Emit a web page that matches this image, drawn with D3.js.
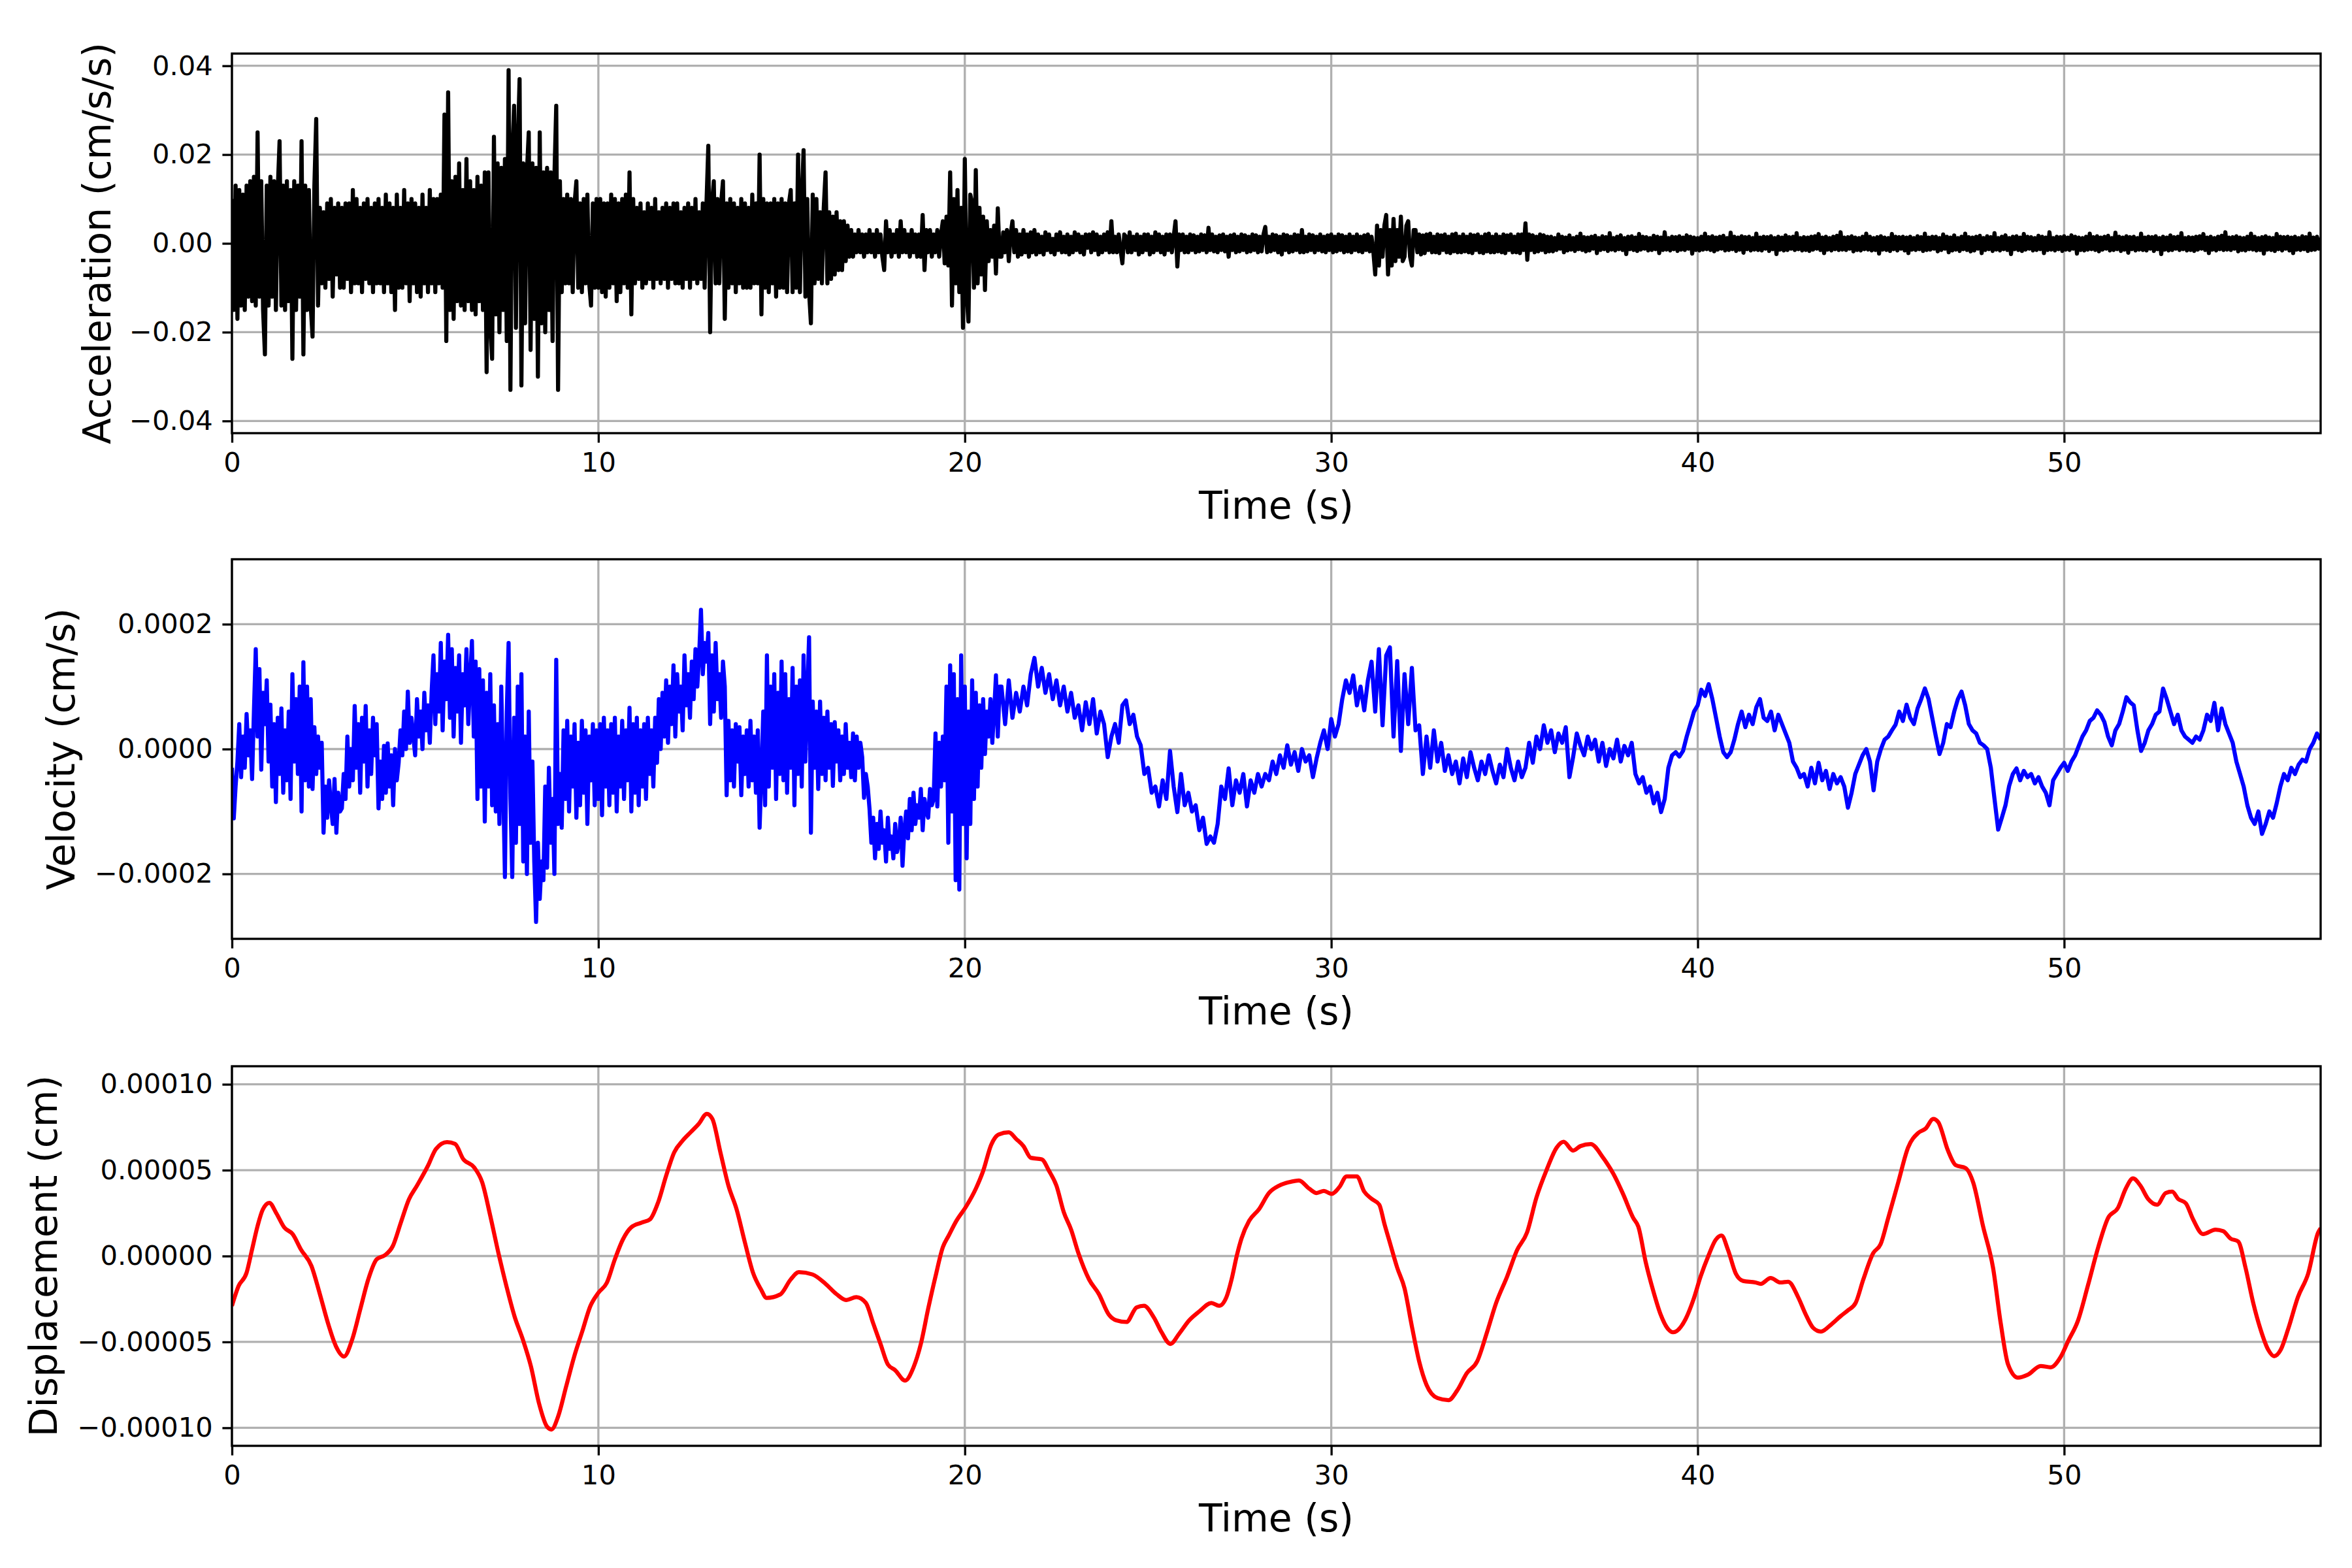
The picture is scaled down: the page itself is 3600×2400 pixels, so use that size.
<!DOCTYPE html>
<html>
<head>
<meta charset="utf-8">
<script src="https://d3js.org/d3.v7.min.js"></script>
<style>
  body { margin: 0; background: #fff; }
  text { font-family: "DejaVu Sans", sans-serif; }
</style>
</head>
<body>
<script>
// ---------- values ----------
var timeTicks = [0, 10, 20, 30, 40, 50];
var timeMax = 57;

// acceleration in 1e-3 cm/s/s, one value every 0.05 s from t = 0 (one row per second)
var accStep = 0.05;
var accValues = [
  10, -15, 13, -17, 12, -14, 11, -15, 13, -12, 14, -13, 15, -14, 25, -12, 14, -15, -25, 13,
  -14, 15, -12, 14, -15, 12, 23, -14, 13, -15, 14, -13, 12, -26, 14, -15, 13, -12, 23, -25,
  13, -15, 12, -14, -21, 13, 28, -14, 8, -9, 7, -10, 9, -8, 10, -12, 8, -7, 9, -10,
  8, -10, 9, -8, 9, -11, 12, -9, 10, -9, 8, -11, 9, -8, 10, -9, 8, -11, 9, -9,
  10, -9, 8, -11, 11, -9, 9, -11, 8, -15, 11, -10, 8, -10, 12, -9, 9, -13, 10, -9,
  9, -11, 8, -12, 11, -9, 8, -11, 12, -9, 10, -11, 10, -9, 11, -10, 29, -22, 34, -15,
  14, -17, 15, -13, 18, -14, 12, -15, 19, -13, 14, -15, 12, -16, 15, -13, 13, -15, 16, -29,
  16, -18, -26, 24, -16, 18, -20, 17, -15, 19, -22, 39, -33, 20, 31, -19, 22, 37, -32, 18,
  -18, 16, 25, -24, 18, -17, 17, -30, 25, -18, 16, -20, 17, -15, 16, -22, 15, 31, -33, 14,
  -11, 10, -9, 11, -9, 10, -11, 9, 14, -10, 9, -11, 10, -9, 11, -9, -14, 9, -10, 10,
  -10, 10, -11, 9, -12, 9, -10, 11, -9, 10, -13, 9, -11, 10, -9, 11, -10, 16, -16, 10,
  -9, 8, -8, 9, -10, 7, -9, 9, -8, 8, -10, 10, -8, 7, -9, 8, -8, 9, -10, 8,
  -8, 9, -9, 9, -9, 7, -10, 8, -8, 9, -10, 8, -8, 10, -9, 7, -8, 9, -10, 9,
  22, -20, 9, 14, -9, 10, -9, 9, 14, -17, 9, -10, 10, -9, 9, -11, 8, -9, 10, -10,
  9, -10, 8, -10, 11, -9, 9, -9, 20, -16, 10, -10, 9, -11, 9, -9, 10, -12, 9, -10,
  10, -10, 9, -11, 9, 12, -11, 9, -10, 20, -11, 10, 21, -12, 10, -11, -18, 11, -9, 10,
  -8, 7, -9, 8, 16, -9, 7, -8, 6, -7, 7, -6, 5, -6, 5, -4, 4, -3, 3, -3,
  2, -2, 3, -2, 2, -3, 2, -2, 3, -2, 2, -3, 3, -2, 2, -3, -6, 5, -2, 3,
  -3, 2, -2, 3, -3, 5, -2, 3, -2, 2, -3, 3, -2, 2, -3, 2, -3, 6.4, -6, 3,
  -2, 3, -3, 2, -2, 3, -3, 2, 5, -4.5, 6, -5, 16, -14, 10, -9, 12, -11, 8, -19,
  19, -12, -17.6, 11, 9, -10, 16.5, -9, 8, -7, 6, -10.5, 5, -4, 3, -3, 4, -6.8, 7.9, -3,
  -3, 2.5, -2, 3, -4, 2, 5, -2, 3, -3, 2, -2.5, 3, -2, 2, -3, 2.5, -2, 3, -2.5,
  2, -2, 1.5, -2.5, 2.5, -1.5, 2, -2, 1, -2.5, 2, -1.5, 2.5, -2, 1.5, -2, 2, -2.5, 1.5, -2,
  2.5, -1.5, 2, -2, 1.5, -2.5, 2, -1, 2, -2, 2.5, -1.5, 2, -2.5, 1.5, -2, 2, -1.5, 2.5, -2,
  5, -2, 1.5, -2, 2, -1.5, -4.5, 2, 1.5, -2, 2.5, -2, 1.5, -1.5, 2, -2.5, 1.5, -2, 2, -1.5,
  2, -2.5, 1.5, -2, 2.5, -1.5, 2, -2, 1.5, -2.5, 2, -1.5, 2, -2, 1.5, 5, -5.2, 2, -1.5, 2,
  -2, 1.5, -2, 2, -1.5, 1.8, -2, 1.5, -1.8, 2, -1.5, 1.8, -2, 3.5, -1.5, 2, -1.8, 1.5, -2, 1.8,
  -1.5, 2, -1.8, 1.5, -3, 1.8, -1.5, 2, -2, 1.5, -1.8, 2, -1.5, 1.8, -2, 1.5, -1.8, 2, -1.5, 1.8,
  -2, 1.5, -1.8, 2, 3.7, -2, 1.5, -1.8, 2, -1.5, 1.8, -2, 1.5, -2.5, 2, -1.5, 1.8, -2, 1.5, -1.8,
  2, -1.5, 1.8, -2, 3, -2, 1.5, -1.8, 2, -1.5, 1.8, -2, 1.5, -1.5, 2, -1.8, 1.5, -2, 1.8, -1.5,
  2, -2, 1.5, -1.8, 2, -1.5, 1.8, -2, 1.5, -1.8, 2, -2, 1.5, -1.5, 2, -1.8, 1.5, -2, 1.8, -1.5,
  2, -1.8, 1.5, -2, -7, 4, -5, 3, -3, 4, 6.4, -7, 3, -5, 5.5, -4, 3, -3, 6, -4,
  -3, 4, 5, -3, -5, 3, 3, -2, 2, -2.5, 1.8, -2.2, 2, -1.5, 2.2, -2, 1.5, -2, 2, -2.2,
  1.8, -1.5, 2, -2, 1.5, -2.2, 2, -1.8, 2.2, -2, 1.5, -2, 2, -1.8, 1.5, -2, 2, -2.2, 1.8, -1.5,
  2, -2, 1.5, -2.2, 2, -1.8, 2.2, -2, 1.5, -2, 2, -1.8, 1.5, -2, 2, -2.2, 1.8, -1.5, 2, -2,
  1.5, -2, 2, -2.2, 2, -1.5, 4.5, -3.7, 2, -1.5, 1.8, -2, 1.5, -1.8, 2, -1.5, 1.8, -2, 1.5, -1.8,
  1.5, -1.8, 1.2, -1.5, 2, -1.2, 1.5, -2, 1.3, -1.6, 1.8, -1.4, 1.2, -1.7, 1.5, -1.3, 2.2, -1.5, 1.4, -1.8,
  1.3, -1.6, 1.5, -1.2, 1.7, -2.2, 1.2, -1.5, 1.6, -1.3, 1.4, -1.7, 2.3, -1.4, 1.2, -1.6, 1.5, -1.3, 1.8, -1.5,
  1.2, -2.4, 1.5, -1.3, 1.6, -1.5, 1.3, -1.7, 2.1, -1.4, 1.5, -1.2, 1.4, -1.6, 1.2, -1.5, 1.7, -1.3, 1.5, -2.2,
  1.3, -1.5, 2.5, -1.4, 1.2, -1.6, 1.5, -1.3, 1.4, -1.7, 1.6, -1.4, 1.3, -1.5, 1.8, -1.2, 1.5, -2.3, 1.3, -1.5,
  1.2, -1.6, 1.5, -1.4, 2.2, -1.3, 1.4, -1.5, 1.6, -1.8, 1.3, -1.4, 1.5, -1.2, 1.7, -1.6, 1.2, -1.5, 2.4, -1.3,
  1.5, -1.7, 1.3, -1.4, 1.6, -2.1, 1.4, -1.3, 1.5, -1.6, 1.2, -1.4, 2.2, -1.5, 1.3, -1.6, 1.5, -1.2, 1.4, -1.7,
  1.6, -1.3, 1.2, -2.4, 1.5, -1.4, 1.3, -1.6, 1.8, -1.5, 1.4, -1.2, 1.5, -1.5, 2.3, -1.3, 1.2, -1.6, 1.4, -1.5,
  1.3, -1.7, 1.5, -1.4, 1.6, -1.2, 2.1, -1.5, 1.3, -2.2, 1.5, -1.4, 1.2, -1.6, 1.5, -1.3, 1.7, -1.5, 2.5, -1.4,
  1.3, -1.5, 1.4, -1.2, 1.6, -1.8, 1.3, -1.5, 1.2, -1.6, 1.5, -1.3, 2.2, -1.4, 1.5, -1.6, 1.2, -1.5, 1.4, -2.3,
  1.6, -1.4, 1.3, -1.5, 1.2, -1.7, 2.1, -1.3, 1.5, -1.6, 1.4, -1.2, 1.5, -1.6, 1.3, -2.2, 1.5, -1.4, 1.2, -1.5,
  1.6, -1.3, 1.4, -1.7, 2.2, -1.5, 1.3, -1.4, 1.5, -1.2, 1.5, -1.8, 1.2, -1.5, 2, -1.2, 1.5, -2, 1.3, -1.6,
  1.8, -1.4, 1.2, -1.7, 1.5, -1.3, 2.2, -1.5, 1.4, -1.8, 1.3, -1.6, 1.5, -1.2, 1.7, -2.2, 1.2, -1.5, 1.6, -1.3,
  1.4, -1.7, 2.3, -1.4, 1.2, -1.6, 1.5, -1.3, 1.8, -1.5, 1.2, -2.4, 1.5, -1.3, 1.6, -1.5, 1.3, -1.7, 2.1, -1.4,
  1.5, -1.2, 1.4, -1.6, 1.2, -1.5, 1.7, -1.3, 1.5, -2.2, 1.3, -1.5, 2.5, -1.4, 1.2, -1.6, 1.5, -1.3, 1.4, -1.7,
  1.6, -1.4, 1.3, -1.5, 1.8, -1.2, 1.5, -2.3, 1.3, -1.5, 1.2, -1.6, 1.5, -1.4, 2.2, -1.3, 1.4, -1.5, 1.6, -1.8,
  1.3, -1.4, 1.5, -1.2, 1.7, -1.6, 1.2, -1.5, 2.4, -1.3, 1.5, -1.7, 1.3, -1.4, 1.6, -2.1, 1.4, -1.3, 1.5, -1.6,
  1.2, -1.4, 2.2, -1.5, 1.3, -1.6, 1.5, -1.2, 1.4, -1.7, 1.6, -1.3, 1.2, -2.4, 1.5, -1.4, 1.3, -1.6, 1.8, -1.5,
  1.4, -1.2, 1.5, -1.5, 2.3, -1.3, 1.2, -1.6, 1.4, -1.5, 1.3, -1.7, 1.5, -1.4, 1.6, -1.2, 2.1, -1.5, 1.3, -2.2,
  1.5, -1.4, 1.2, -1.6, 1.5, -1.3, 1.7, -1.5, 2.5, -1.4, 1.3, -1.5, 1.4, -1.2, 1.6, -1.8, 1.3, -1.5, 1.2, -1.6,
  1.5, -1.3, 2.2, -1.4, 1.5, -1.6, 1.2, -1.5, 1.4, -2.3, 1.6, -1.4, 1.3, -1.5, 1.2, -1.7, 2.1, -1.3, 1.5, -1.6,
  1.4, -1.2, 1.5, -1.6, 1.3, -2.2, 1.5, -1.4, 1.2, -1.5, 1.6, -1.3, 1.4, -1.7, 2.2, -1.5, 1.3, -1.4, 1.5, -1.2,
  1.3
];
var accTicks = [-40, -20, 0, 20, 40];

// velocity in 1e-6 cm/s
// noisy part: one value every 0.05 s from t = 0 (one row per second)
var velEarlyStep = 0.05;
var velEarly = [
  -30, -111, -60, -20, 40, -45, 20, -30, 56, -10, 30, -48, 60, 160, 20, 128, -33, 90, 40, 110,
  -20, 71, -60, 40, -85, 50, -40, 65, -70, 30, -50, 60, -80, 120, -20, 80, -40, 100, -100, 139,
  -50, 100, -60, 80, -64, 35, -40, 20, -30, 10, -134, -60, -110, -50, -90, -120, -48, -134, -70, -100,
  -95, -40, -80, 20, -60, 0, -50, 69, -30, 40, -70, 50, -20, 69, -60, 30, -40, 50, -10, 40,
  -95, -20, -80, 5, -70, 9, -60, -10, -90, 0, -50, -22, 30, -10, 60, 0, 92, 10, 50, 20,
  -10, 80, 20, 60, 0, 90, 30, 70, 10, 92, 150, 40, 120, 60, 170, 30, 140, 80, 183, 50,
  160, 20, 130, 60, 150, 10, 120, 70, 160, 40, 110, 173, 20, 140, -80, 128, -60, 110, -116, 90,
  -60, 120, -90, 70, -100, 40, -120, 100, -50, -205, 60, 170, -80, -205, 50, -150, 100, -120, 120, -180,
  20, -200, 60, -150, -20, -180, -277, -150, -240, -180, -210, -60, -190, -30, -150, -80, -200, 143, -120, -40,
  -126, 30, -80, 45, -100, 20, -60, 40, -110, 10, -90, 45, -70, 30, -120, 20, -50, 40, -90, 30,
  -80, 40, -106, 50, -60, 30, -90, 40, -70, 50, -100, 20, -60, 45, -80, 30, -50, 66, -100, 40,
  -70, 50, -90, 30, -60, 40, -80, 50, -40, 30, -60, 50, -22, 80, 0, 90, 20, 110, 10, 100,
  40, 134, 20, 120, 60, 100, 30, 150, 70, 120, 50, 140, 80, 160, 100, 150, 223, 120, 170, 140,
  186, 40, 150, 60, 170, 80, 120, 50, 140, 100, -74, 45, -50, 30, -60, 40, -20, 35, -74, 20,
  -40, 30, -60, 45, -50, 20, -70, 30, -126, -40, 60, -90, 150, -60, 100, -30, 120, -80, 90, -40,
  140, -50, 120, -70, 80, -30, 130, -90, 100, -40, 110, -60, 150, -20, 90, 179, -134, 76, -30, 60,
  -64, 76, -40, 50, -50, 60, -30, 40, -59, 43, -20, 30, -50, 20, -40, 40, -30, 10, -45, 25,
  -50, 20, -30, 10, -13, -78, -40, -60, -96, -150, -110, -175, -120, -160, -100, -150, -130, -180, -110, -160,
  -140, -175, -120, -165, -150, -110, -187, -130, -100, -143, -80, -130, -70, -120, -90, -110, -64, -130, -80, -100,
  -110, -64, -90, -80, 25, -92, 10, -60, 20, -50, 100, -150, 134, -100, 120, -210, 80, -225, 150, -120,
  100, -175, 60, -120, 110, -80, 90, -60, 70, -30, 80, -8, 60, 20, 80, 10, 60, 118, 20, 100
];
// smoother part: one value every 0.1 s from t = 21
var velLateStart = 21, velLateStep = 0.1;
var velLate = [
  100, 40, 110, 50, 90, 60, 100, 70, 120, 146,
  100, 130, 90, 120, 80, 110, 70, 100, 60, 90,
  50, 70, 30, 75, 40, 80, 25, 60, 40, -13,
  20, 40, 10, 70, 78, 40, 55, 20, 6, -40,
  -30, -70, -60, -92, -50, -80, -3, -60, -101, -40,
  -90, -70, -100, -90, -130, -110, -152, -140, -150, -120,
  -60, -80, -31, -90, -50, -70, -40, -92, -50, -70,
  -40, -60, -40, -50, -20, -40, -10, -30, 6, -25,
  -5, -35, 0, -20, -10, -45, -15, 10, 30, 0,
  48, 20, 40, 80, 110, 90, 118, 70, 100, 62,
  110, 140, 60, 160, 38, 150, 163, 20, 141, -3,
  120, 40, 130, 30, 38, -40, 20, -30, 30, -20,
  10, -35, -10, -40, -20, -55, -15, -45, -5, -30,
  -50, -20, -40, -10, -35, -55, -25, -45, 0, -30,
  -50, -20, -45, -30, 10, -22, 20, 0, 38, 10,
  30, -5, 25, 10, 35, -45, -13, 25, 5, -10,
  20, 0, 15, -20, 10, -27, 0, -15, 15, -20,
  5, -10, 10, -40, -55, -45, -70, -60, -87, -70,
  -101, -80, -30, -10, -5, -12, -3, 20, 40, 60,
  70, 95, 85, 104, 80, 50, 20, -5, -13, -5,
  15, 40, 60, 35, 55, 40, 67, 80, 50, 45,
  60, 30, 55, 40, 25, 10, -20, -30, -45, -40,
  -60, -30, -55, -22, -50, -35, -64, -40, -55, -45,
  -60, -94, -70, -40, -25, -10, 0, -20, -66, -20,
  0, 15, 20, 30, 39, 60, 45, 71, 50, 40,
  65, 80, 97, 80, 50, 20, -8, 10, 40, 35,
  60, 80, 92, 70, 40, 30, 25, 10, 6, 0,
  -30, -80, -129, -110, -90, -59, -40, -31, -50, -35,
  -45, -40, -55, -45, -60, -70, -90, -50, -40, -30,
  -22, -35, -20, -10, 5, 20, 30, 45, 50, 62,
  55, 43, 20, 6, 30, 40, 60, 83, 75, 70,
  30, -3, 10, 30, 40, 55, 60, 97, 80, 60,
  40, 55, 30, 20, 15, 10, 20, 15, 30, 55,
  45, 74, 30, 65, 40, 25, 10, -20, -40, -60,
  -90, -110, -120, -100, -136, -120, -100, -110, -87, -60,
  -40, -50, -30, -40, -25, -17, -20, 0, 10, 25,
  15
];
var velTicks = [-200, 0, 200];

// displacement: [time (s), displacement in 1e-6 cm]
var dispPoints = [
  [0,-29],[0.18,-17.5],[0.4,-9.7],[0.55,3.9],[0.7,17.5],[0.84,27],[1.02,31],[1.21,25],[1.43,16.6],
  [1.66,12.7],[1.88,3.9],[2.17,-5.8],[2.39,-21.4],[2.62,-39],[2.84,-52.6],[3.06,-58.5],[3.28,-48.7],
  [3.5,-31.2],[3.72,-13.6],[3.95,-1.9],[4.17,0.4],[4.39,5.8],[4.61,19.5],[4.83,33],[5.05,41],
  [5.35,52.6],[5.57,62.4],[5.87,66.3],[6.09,65.3],[6.31,56.5],[6.61,51.6],[6.83,42.9],[7.05,23.4],
  [7.27,2],[7.49,-17.5],[7.71,-35],[7.94,-48.7],[8.16,-64.3],[8.38,-85.8],[8.6,-99.4],[8.72,-101],
  [8.9,-93.5],[9.12,-76],[9.34,-58.5],[9.56,-43.9],[9.78,-29.2],[10.0,-21.4],[10.23,-15.6],
  [10.45,-1.9],[10.67,9.7],[10.89,16.6],[11.19,19.5],[11.41,21.4],[11.63,31.2],[11.85,46.8],
  [12.07,60.4],[12.3,67.2],[12.52,72.1],[12.74,77],[12.96,82.8],[13.11,79.9],[13.33,60.4],
  [13.55,40.9],[13.77,27.3],[14.0,7.8],[14.22,-9.7],[14.44,-19.5],[14.59,-24.4],[14.96,-22.4],
  [15.25,-13.6],[15.47,-9.4],[15.84,-10.7],[16.2,-16.2],[16.5,-22.2],[16.76,-25.6],[17.04,-23.9],
  [17.3,-27.3],[17.5,-39.2],[17.7,-51.2],[17.9,-63.1],[18.1,-66.5],[18.37,-72.5],[18.6,-64.8],
  [18.8,-51.2],[19.0,-30.7],[19.2,-11.9],[19.4,5.1],[19.56,11.9],[19.77,20.5],[20.04,29],
  [20.3,39.2],[20.5,49.5],[20.72,64.8],[20.93,70.8],[21.2,72],[21.4,68.2],[21.6,64],[21.8,57.2],
  [22.1,56.3],[22.3,49.5],[22.5,41],[22.7,25.6],[22.9,15.4],[23.1,1.7],[23.39,-13.6],[23.66,-22.2],
  [23.93,-34.1],[24.14,-37.5],[24.41,-38.4],[24.69,-29.9],[24.89,-29],[25.16,-35.8],[25.37,-44.4],
  [25.61,-51.2],[25.85,-45.2],[26.12,-37.5],[26.39,-32.4],[26.73,-27.3],[26.94,-29],[27.14,-23.9],
  [27.28,-13.6],[27.42,0],[27.55,10.2],[27.76,20.5],[28.03,27.3],[28.3,36.7],[28.58,41],[28.85,43],
  [29.12,44],[29.4,39.2],[29.6,36.7],[29.8,37.9],[30.01,36.2],[30.22,40.1],[30.42,46.4],[30.7,46.4],
  [30.9,37.5],[31.1,33.3],[31.31,29.9],[31.45,18.8],[31.59,8.5],[31.8,-6.8],[32.0,-18.8],
  [32.2,-40.9],[32.4,-61.4],[32.6,-75],[32.9,-82.7],[33.2,-83.9],[33.43,-78.5],[33.7,-68.2],
  [33.98,-61.4],[34.25,-44.4],[34.5,-27.3],[34.8,-11.9],[35.07,3.4],[35.34,13.6],[35.6,34.1],
  [35.88,50.3],[36.15,63.1],[36.34,66.5],[36.6,61.4],[36.8,64],[37.08,65.2],[37.42,57.2],
  [37.7,47.8],[37.97,35.8],[38.24,22.2],[38.38,17.1],[38.58,-3.4],[38.79,-20.5],[38.99,-34.1],
  [39.2,-42.7],[39.33,-44.4],[39.67,-36.7],[39.88,-25.6],[40.08,-11.9],[40.29,0],[40.49,9.4],
  [40.65,11.9],[40.83,3.4],[41.04,-10.2],[41.24,-14.5],[41.58,-15.4],[41.72,-16.2],[41.99,-12.8],
  [42.26,-15.4],[42.47,-15],[42.74,-23.9],[42.95,-34.1],[43.15,-41.8],[43.36,-44],[43.63,-40.1],
  [43.9,-35],[44.1,-31.6],[44.31,-27.3],[44.52,-13.6],[44.79,1.7],[44.99,6.8],[45.2,22.2],
  [45.47,42.7],[45.74,63.1],[46.02,71.7],[46.22,74.2],[46.43,79.8],[46.56,78.1],[46.83,61.4],
  [47.04,52.9],[47.31,51.2],[47.52,42.7],[47.79,17.1],[48.06,-6.8],[48.27,-39.2],[48.47,-63.1],
  [48.74,-70.8],[49.01,-69.1],[49.36,-64],[49.63,-64.8],[49.9,-58.9],[50.11,-49.5],[50.38,-37.5],
  [50.65,-17.1],[50.93,5.1],[51.2,22.2],[51.47,28.1],[51.68,39.2],[51.88,45.2],[52.08,41],
  [52.29,33.3],[52.54,29.9],[52.77,36.7],[52.95,37.5],[53.11,33.3],[53.32,30.7],[53.52,21.3],
  [53.79,12.8],[54.13,15.4],[54.34,14.5],[54.54,10.2],[54.75,8.5],[54.95,-6.8],[55.16,-27.3],
  [55.36,-42.7],[55.57,-54.6],[55.73,-58.3],[55.91,-54.6],[56.11,-42.7],[56.38,-23.9],
  [56.66,-10.2],[56.93,13.6],[57.0,16.2]
];
var dispTicks = [-100, -50, 0, 50, 100];

// ---------- drawing ----------
var width = 3600, height = 2400;
var left = 355, right = 3552, panelH = 581;
var lw = 3.33;          // spines, grid and ticks
var dataLw = 6.25;      // data lines
var tickFont = 41.7, labelFont = 58.3;

var svg = d3.select("body").append("svg")
  .attr("width", width).attr("height", height)
  .style("background", "white");

var x = d3.scaleLinear().domain([0, timeMax]).range([left, right]);

var accData = accValues.map(function(v, i) { return [i * accStep, v]; });
var velData = velEarly.map(function(v, i) { return [i * velEarlyStep, v]; })
  .concat(velLate.map(function(v, i) { return [velLateStart + i * velLateStep, v]; }));

var panels = [
  {top: 82, label: "Acceleration (cm/s/s)", labelX: 169, color: "#000000",
   data: accData, yMax: 42.75, ticks: accTicks, curve: d3.curveLinear,
   fmt: function(d) { return d3.format(".2f")(d / 1e3); }},
  {top: 856, label: "Velocity (cm/s)", labelX: 114, color: "#0000ff",
   data: velData, yMax: 304, ticks: velTicks, curve: d3.curveLinear,
   fmt: function(d) { return d3.format(".4f")(d / 1e6); }},
  {top: 1632, label: "Displacement (cm)", labelX: 87, color: "#ff0000",
   data: dispPoints, yMax: 110.5, ticks: dispTicks, curve: d3.curveMonotoneX,
   fmt: function(d) { return d3.format(".5f")(d / 1e6); }}
];

panels.forEach(function(p, k) {
  var bottom = p.top + panelH;
  var y = d3.scaleLinear().domain([-p.yMax, p.yMax]).range([bottom, p.top]);
  var g = svg.append("g");

  // grid under the data
  g.selectAll(".vg").data(timeTicks).enter().append("line")
    .attr("x1", function(d) { return x(d); }).attr("x2", function(d) { return x(d); })
    .attr("y1", p.top).attr("y2", bottom)
    .attr("stroke", "#b0b0b0").attr("stroke-width", lw);
  g.selectAll(".hg").data(p.ticks).enter().append("line")
    .attr("x1", left).attr("x2", right)
    .attr("y1", function(d) { return y(d); }).attr("y2", function(d) { return y(d); })
    .attr("stroke", "#b0b0b0").attr("stroke-width", lw);

  svg.append("clipPath").attr("id", "clip" + k)
    .append("rect").attr("x", left).attr("y", p.top)
    .attr("width", right - left).attr("height", panelH);

  var line = d3.line()
    .x(function(d) { return x(d[0]); })
    .y(function(d) { return y(d[1]); })
    .curve(p.curve);

  g.append("path").datum(p.data)
    .attr("clip-path", "url(#clip" + k + ")")
    .attr("d", line)
    .attr("fill", "none").attr("stroke", p.color)
    .attr("stroke-width", dataLw).attr("stroke-linejoin", "round");

  // spines
  g.append("rect").attr("x", left).attr("y", p.top)
    .attr("width", right - left).attr("height", panelH)
    .attr("fill", "none").attr("stroke", "black").attr("stroke-width", lw);

  var xa = g.append("g").attr("transform", "translate(0," + bottom + ")")
    .call(d3.axisBottom(x).tickValues(timeTicks).tickSize(14.6).tickPadding(14.6)
      .tickFormat(d3.format("d")));
  var ya = g.append("g").attr("transform", "translate(" + left + ",0)")
    .call(d3.axisLeft(y).tickValues(p.ticks).tickSize(14.6).tickPadding(14.6)
      .tickFormat(p.fmt));
  [xa, ya].forEach(function(a) {
    a.select(".domain").remove();
    a.attr("font-family", "DejaVu Sans").attr("font-size", tickFont);
    a.selectAll("line").attr("stroke", "black").attr("stroke-width", lw);
    a.selectAll("text").attr("fill", "black");
  });

  g.append("text")
    .attr("x", (left + right) / 2).attr("y", bottom + 131)
    .attr("text-anchor", "middle").attr("font-size", labelFont)
    .text("Time (s)");

  g.append("text")
    .attr("transform", "translate(" + p.labelX + "," + (p.top + panelH / 2) + ") rotate(-90)")
    .attr("text-anchor", "middle").attr("font-size", labelFont)
    .text(p.label);
});
</script>
</body>
</html>
